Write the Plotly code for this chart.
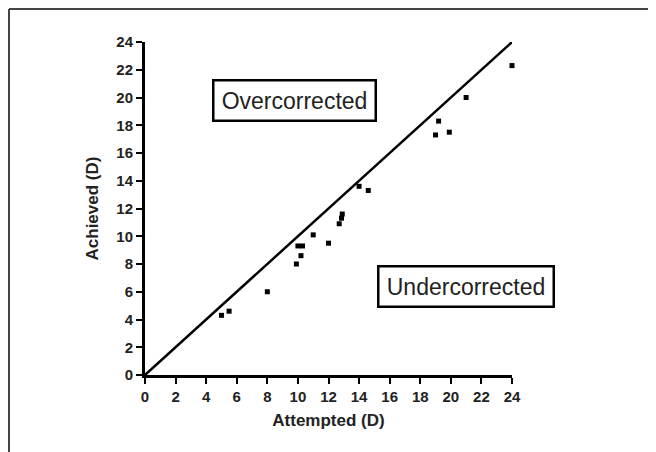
import plotly.graph_objects as go

attempted = [5.0, 5.5, 8.0, 9.9, 10.2, 10.0, 10.3, 11.0, 12.0, 12.7, 12.85, 12.9, 14.0, 14.6, 19.0, 19.2, 19.9, 21.0, 24.0]
achieved = [4.3, 4.6, 6.0, 8.0, 8.6, 9.3, 9.3, 10.1, 9.5, 10.9, 11.3, 11.6, 13.6, 13.3, 17.3, 18.3, 17.5, 20.0, 22.3]
line_x = [0, 24]
line_y = [0, 24]
tick_vals = list(range(0, 25, 2))
tick_text = [str(v) for v in tick_vals]

# page body has an 8px margin; figure is sized so the plot lands where the reference has it
OFF = 8
W, H = 656 - OFF, 452 - OFF
L, R, T, B = 145 - OFF, 144, 42 - OFF, 77
pw, ph = W - L - R, H - T - B

def px_x(p):
    return (p - OFF - L) / pw

def px_y(p):
    return (H - B - (p - OFF)) / ph

fig = go.Figure()
fig.add_trace(go.Scatter(x=line_x, y=line_y, mode="lines",
                         line=dict(color="black", width=2.5), hoverinfo="skip"))
fig.add_trace(go.Scatter(x=attempted, y=achieved, mode="markers",
                         marker=dict(symbol="square", size=5, color="black"),
                         cliponaxis=False))

axis_common = dict(range=[0, 24], tickvals=tick_vals, ticktext=tick_text,
                   showgrid=False, zeroline=False, showline=True,
                   linecolor="black", linewidth=3, ticks="outside",
                   ticklen=6, tickwidth=2, tickcolor="black",
                   tickfont=dict(family="Arial", size=15, color="#222", weight="bold"))

fig.update_xaxes(**axis_common,
                 title=dict(text="Attempted (D)", standoff=11,
                            font=dict(family="Arial", size=17, color="#222", weight="bold")))
fig.update_yaxes(**axis_common,
                 title=dict(text="Achieved (D)", standoff=14,
                            font=dict(family="Arial", size=17, color="#222", weight="bold")))

annot_font = dict(family="Arial", size=23, color="#222")
fig.add_annotation(x=9.8, y=19.8, text="Overcorrected", showarrow=False,
                   font=annot_font, bordercolor="black", borderwidth=2.5,
                   borderpad=4, bgcolor="white", width=152, height=30)
fig.add_annotation(x=20.98, y=6.38, text="Undercorrected", showarrow=False,
                   font=annot_font, bordercolor="black", borderwidth=2.5,
                   borderpad=4, bgcolor="white", width=165, height=30)

# outer frame (top and left edges)
fx0, fy0 = px_x(9), px_y(9)
fig.add_shape(type="line", xref="paper", yref="paper",
              x0=fx0, y0=fy0, x1=px_x(656 + 5), y1=fy0,
              line=dict(color="#444", width=2))
fig.add_shape(type="line", xref="paper", yref="paper",
              x0=fx0, y0=fy0, x1=fx0, y1=px_y(452 + 5),
              line=dict(color="#444", width=2))

fig.update_layout(width=W, height=H, margin=dict(l=L, r=R, t=T, b=B),
                  paper_bgcolor="white", plot_bgcolor="white",
                  showlegend=False)

fig.write_html("out.html")
